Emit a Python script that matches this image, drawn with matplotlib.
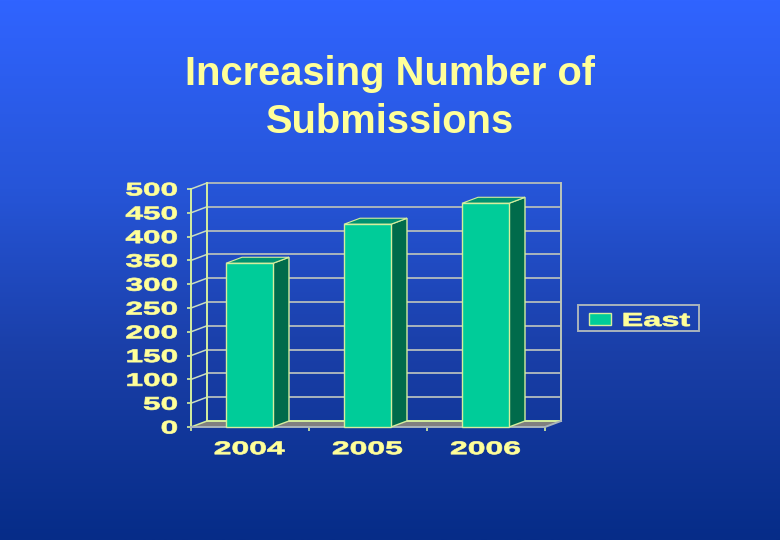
import matplotlib
matplotlib.use("Agg")
import matplotlib.pyplot as plt
import matplotlib.patheffects as pe
from matplotlib.colors import LinearSegmentedColormap
from matplotlib.patches import Polygon, Rectangle
from matplotlib.transforms import Affine2D
import numpy as np

title_lines = ["Increasing Number of", "Submissions"]
categories = ["2004", "2005", "2006"]
series_name = "East"
east = [344, 426, 470]
yticks = [0, 50, 100, 150, 200, 250, 300, 350, 400, 450, 500]

W, H = 780, 540
YELLOW = "#FFFF99"
EDGE = "#D5EE9E"
GRID = "#A9B4BC"
FRONT, SIDE, TOP = "#00CC99", "#006B4B", "#009270"
FLOOR = "#808080"


class Stretch(pe.AbstractPathEffect):
    """Widen and slightly embolden glyphs around an anchor (0 left, .5 centre, 1 right)."""
    def __init__(self, sx, anchor=0.5, bold=0.5):
        super().__init__()
        self.sx, self.anchor, self.bold = sx, anchor, bold

    def draw_path(self, renderer, gc, tpath, affine, rgbFace=None):
        e = tpath.get_extents()
        c = e.x0 + self.anchor * (e.x1 - e.x0)
        t = Affine2D().translate(-c, 0).scale(self.sx, 1).translate(c, 0) + affine
        g = renderer.new_gc()
        g.copy_properties(gc)
        g.set_foreground(rgbFace)
        g.set_linewidth(self.bold)
        renderer.draw_path(g, tpath, t, rgbFace)
        g.restore()


fig = plt.figure(figsize=(W / 100, H / 100), dpi=100)

# background
bg = fig.add_axes([0, 0, 1, 1], zorder=0)
bg.axis("off")
cmap = LinearSegmentedColormap.from_list(
    "bg", [(0, "#3064FF"), (0.35, "#2655D8"), (0.65, "#1A3FA8"), (1, "#062C88")])
bg.imshow(np.linspace(0, 1, 256)[:, None], aspect="auto", cmap=cmap, extent=(0, 1, 0, 1))

# overlay in pixel coordinates for title and legend
ov = fig.add_axes([0, 0, 1, 1], zorder=3)
ov.set_xlim(0, W)
ov.set_ylim(H, 0)
ov.axis("off")
ov.patch.set_alpha(0)

for line, y in zip(title_lines, [74, 122]):
    ov.text(390, y, line, ha="center", va="center", color=YELLOW, fontsize=28.7,
            fontweight="bold", family="Liberation Sans")

# plot axes: front plane of the 3-D box
x0, x1, ytop, ybot = 191, 545, 189, 427
ax = fig.add_axes([x0 / W, 1 - ybot / H, (x1 - x0) / W, (ybot - ytop) / H], zorder=2)
ax.set_xlim(0, 3)
ax.set_ylim(0, 500)
ax.patch.set_alpha(0)
for s in ax.spines.values():
    s.set_visible(False)

dx = 16 / ((x1 - x0) / 3)           # depth expressed in data units
dy = 6 / ((ybot - ytop) / 500)
ymax = yticks[-1]
lw = 1.4

# floor
ax.add_patch(Polygon([(0, 0), (dx, dy), (3 + dx, dy), (3, 0)], closed=True,
                     facecolor=FLOOR, edgecolor="none", clip_on=False, zorder=1))
# gridlines on back wall and side wall
for v in yticks:
    ax.plot([dx, 3 + dx], [v + dy, v + dy], color=GRID if v else EDGE, lw=lw, clip_on=False, zorder=1.5,
            solid_capstyle="butt")
    ax.plot([0, dx], [v, v + dy], color=EDGE if v == 0 else "#C9DCC0", lw=1.1, clip_on=False, zorder=1.5)
# walls
ax.plot([dx, dx], [dy, ymax + dy], color=EDGE, lw=lw, clip_on=False, zorder=1.6)
ax.plot([3 + dx, 3 + dx], [dy, ymax + dy], color="#BCC6B8", lw=lw, clip_on=False, zorder=1.6)
ax.plot([3, 3 + dx], [0, dy], color=GRID, lw=lw, clip_on=False, zorder=1.6)
ax.plot([0, 0], [0, ymax], color=EDGE, lw=lw, clip_on=False, zorder=1.6)
ax.plot([0, 3], [0, 0], color=GRID, lw=lw, clip_on=False, zorder=1.6)

# bars
pos = np.arange(len(categories)) + 0.5 - 0.5 / ((x1 - x0) / 3)
bw = 47 / ((x1 - x0) / 3)
ax.bar(pos, east, width=bw, color=FRONT, edgecolor=EDGE, lw=1.0, zorder=3, clip_on=False, label=series_name)
for p, v in zip(pos, east):
    l, r = p - bw / 2, p + bw / 2
    ax.add_patch(Polygon([(r, 0), (r + dx, dy), (r + dx, v + dy), (r, v)], closed=True,
                         facecolor=SIDE, edgecolor=EDGE, lw=1.0, clip_on=False, zorder=2.9))
    ax.add_patch(Polygon([(l, v), (l + dx, v + dy), (r + dx, v + dy), (r, v)], closed=True,
                         facecolor=TOP, edgecolor=EDGE, lw=0.8, clip_on=False, zorder=2.9))

# ticks and labels
ax.set_yticks(yticks, [str(v) for v in yticks])
ax.set_xticks([0, 1, 2, 3])
ax.set_xticks(pos, categories, minor=True)
ax.set_xticklabels([])
ax.tick_params(axis="y", length=3, width=1.2, color=EDGE, pad=6.6)
ax.tick_params(axis="x", which="major", length=3, width=1.2, color=EDGE)
ax.tick_params(axis="x", which="minor", length=0, pad=10.2)
for t in ax.get_yticklabels():
    t.set(color=YELLOW, fontsize=13.2, fontweight="bold", family="Liberation Sans",
          path_effects=[Stretch(1.72, 1.0)])
for t in ax.get_xticklabels(minor=True):
    t.set(color=YELLOW, fontsize=13.2, fontweight="bold", family="Liberation Sans",
          path_effects=[Stretch(1.74, 0.5)])

# legend
ov.add_patch(Rectangle((577.5, 305), 121.5, 26, facecolor="none", edgecolor=GRID, lw=1.4))
ov.add_patch(Rectangle((588.5, 313), 22, 12, facecolor=FRONT, edgecolor=EDGE, lw=1.0))
ov.text(622.5, 321.5, series_name, ha="left", va="center", color=YELLOW, fontsize=13.6,
        fontweight="bold", family="Liberation Sans", path_effects=[Stretch(1.72, 0.0)])

fig.savefig("out.png", dpi=100)
